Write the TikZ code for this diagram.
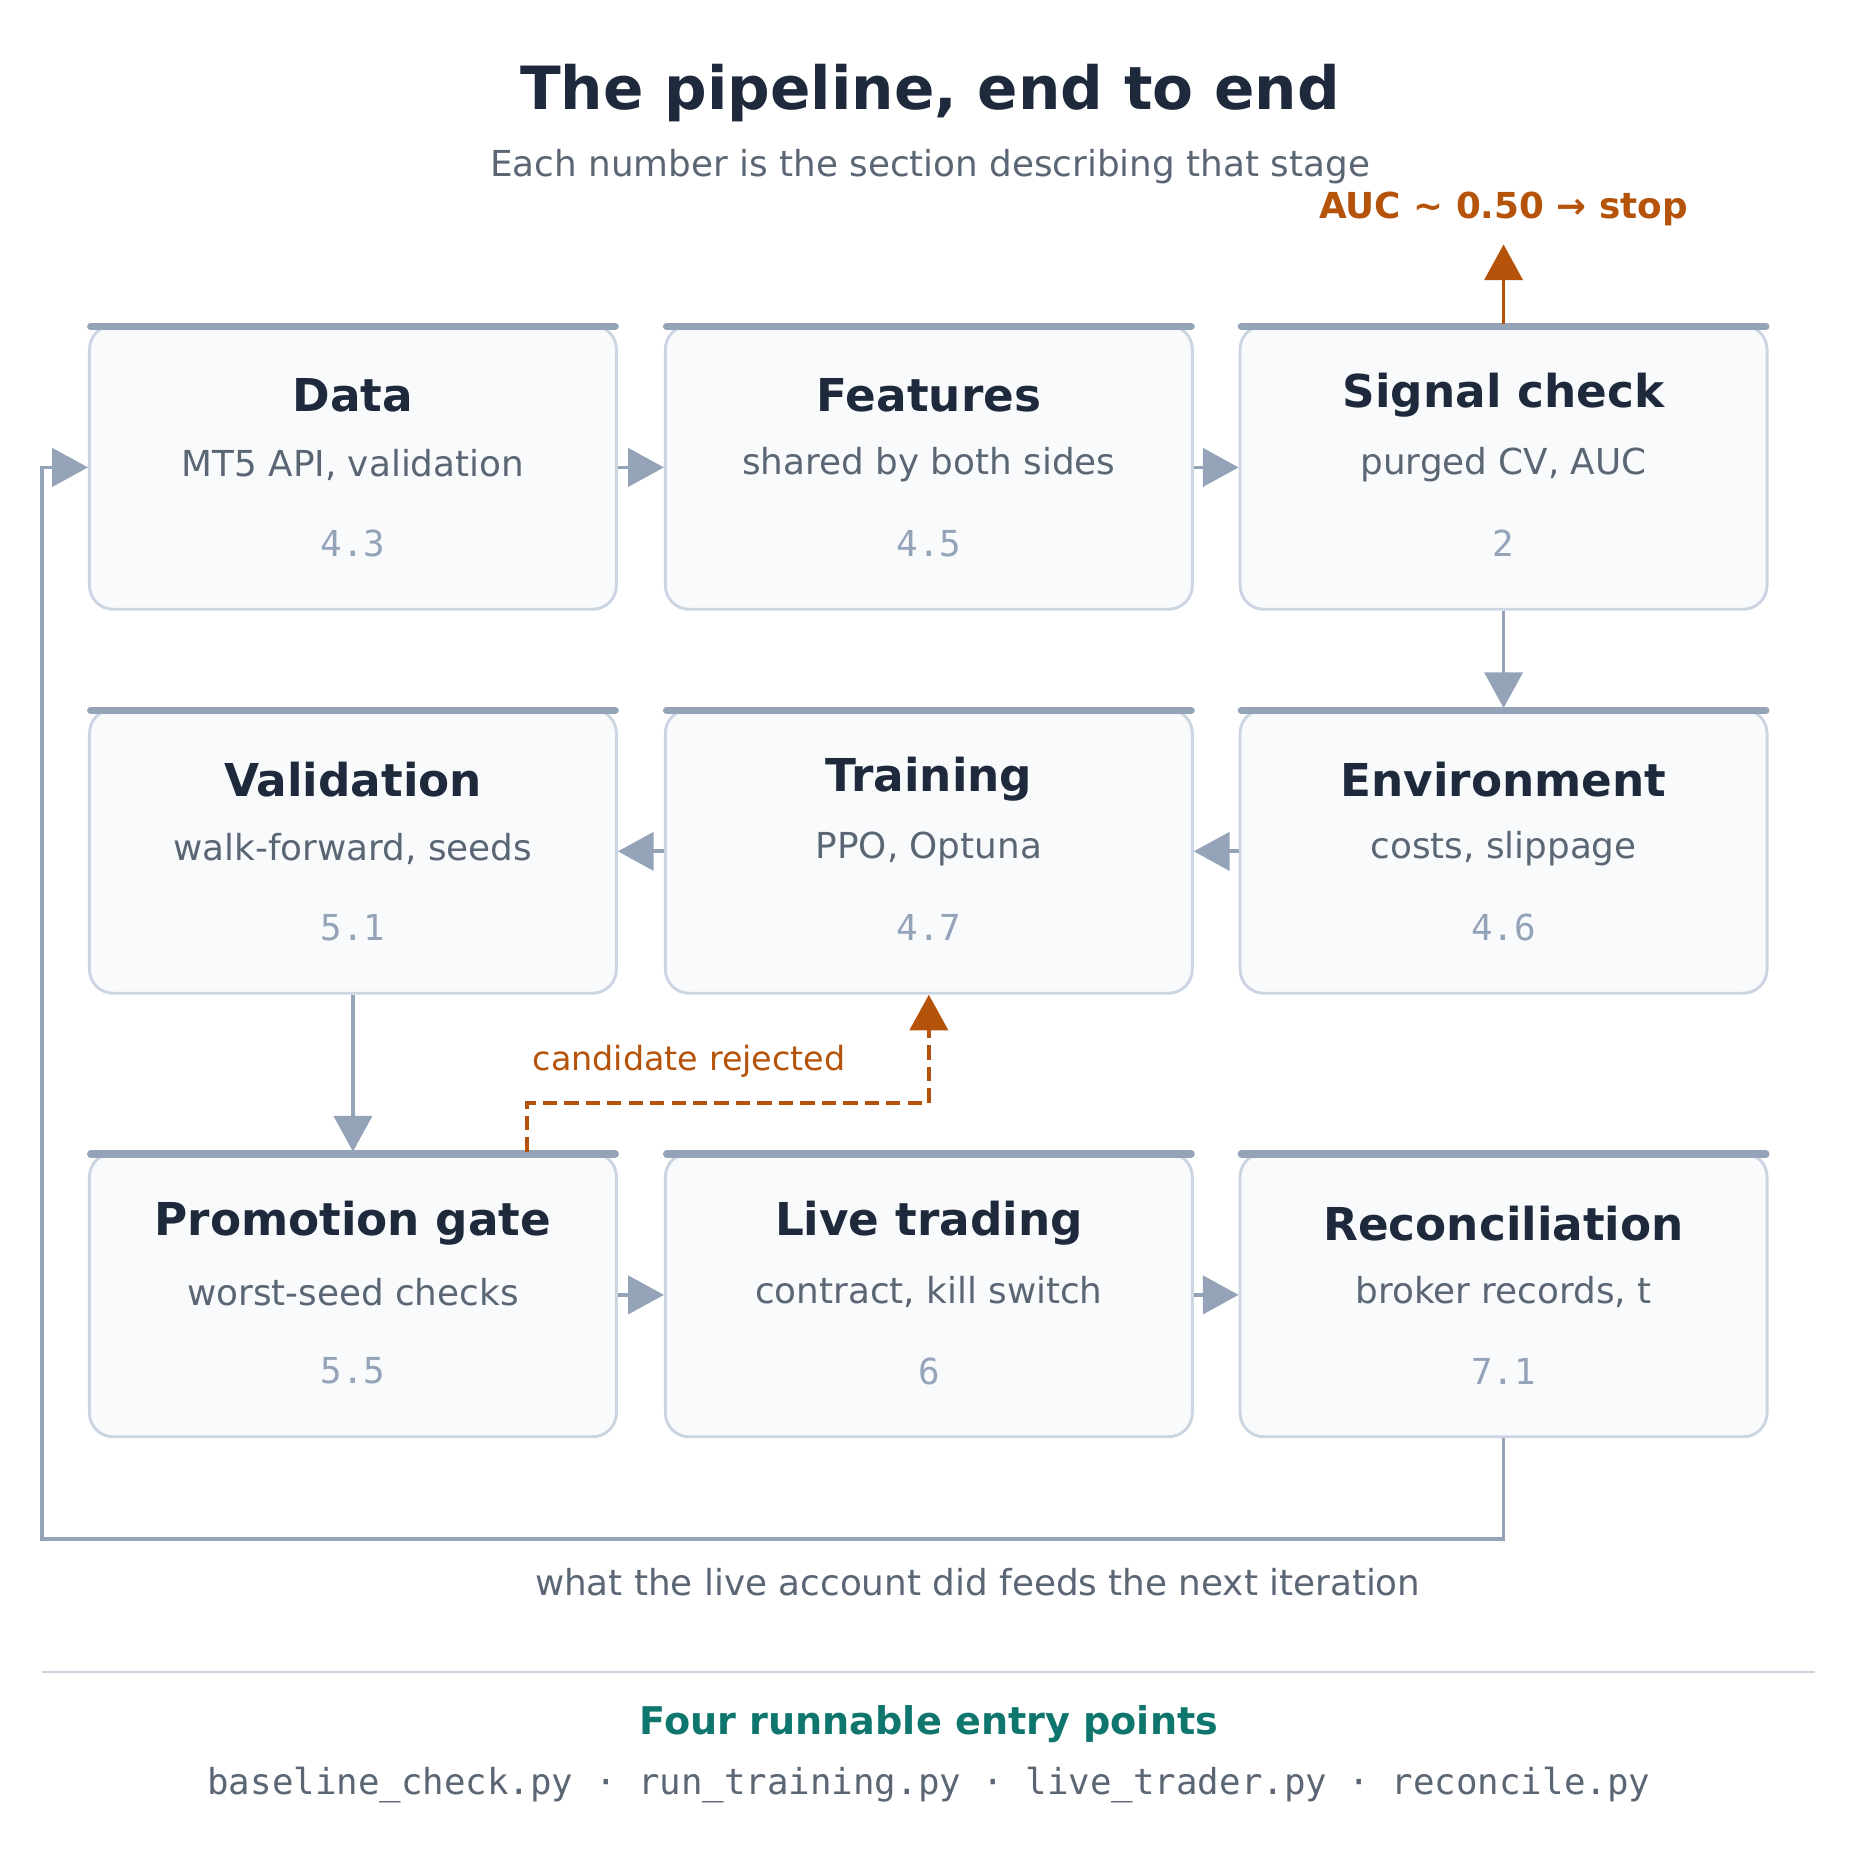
\documentclass[tikz,border=0pt]{standalone}
\usepackage{fontspec}
\setmainfont{DejaVu Sans}
\setmonofont{DejaVu Sans Mono}
\usetikzlibrary{positioning}
\usetikzlibrary{arrows.meta}
\definecolor{ink}{HTML}{1E293B}
\definecolor{muted}{HTML}{5B6675}
\definecolor{slate}{HTML}{94A3B8}
\definecolor{edge}{HTML}{CBD5E1}
\definecolor{paper}{HTML}{F8FAFC}
\definecolor{rust}{HTML}{B45309}
\definecolor{teal}{HTML}{0F766E}
\tikzstyle{stage} = [rectangle, rounded corners=10pt, minimum width=221pt, minimum height=119pt, draw=edge, line width=1.2pt, fill=paper]
\tikzstyle{stagetitle} = [font=\fontsize{19}{22}\selectfont\bfseries, text=ink]
\tikzstyle{stagesub} = [font=\fontsize{15}{18}\selectfont, text=muted]
\tikzstyle{stagenum} = [font=\fontsize{15}{18}\ttfamily, text=slate]
\tikzstyle{arrow} = [line width=1.6pt, draw=slate, -{Triangle[length=15pt,width=16pt]}]
\tikzstyle{hotarrow} = [line width=1.6pt, draw=rust, -{Triangle[length=15pt,width=16pt]}]

\begin{document}
\begin{tikzpicture}[x=0.5pt, y=-0.5pt]
        \useasboundingbox (0,0) rectangle (1560,1570);
        \node (title) [font=\fontsize{25}{30}\selectfont\bfseries, text=ink] at (780,78) {The pipeline, end to end};
        \node (subtitle) [font=\fontsize{15}{18}\selectfont, text=muted] at (780,140) {Each number is the section describing that stage};

        % stages
        \foreach \name/\x/\y/\head/\sub/\num in {
            data/296/392/Data/{MT5 API, validation}/4.3,
            feat/779/392/Features/{shared by both sides}/4.5,
            signal/1261/392/Signal check/{purged CV, AUC}/2,
            valid/296/714/Validation/{walk-forward, seeds}/5.1,
            train/779/714/Training/{PPO, Optuna}/4.7,
            env/1261/714/Environment/{costs, slippage}/4.6,
            promo/296/1086/Promotion gate/{worst-seed checks}/5.5,
            live/779/1086/Live trading/{contract, kill switch}/6,
            recon/1261/1086/Reconciliation/{broker records, t}/7.1}{
            \node (\name) [stage] at (\x,\y) {};
            \draw [slate, line width=3pt, line cap=round] ([xshift=-110pt,yshift=-1pt]\name.north) -- ([xshift=110pt,yshift=-1pt]\name.north);
            \node (\name-t) [stagetitle] at ([yshift=-30pt]\name.north) {\head};
            \node (\name-s) [stagesub] at ([yshift=-59pt]\name.north) {\sub};
            \node (\name-n) [stagenum] at ([yshift=-92pt]\name.north) {\num};
        }

        \coordinate (stop) at (1261,205);
        \node (stoplabel) [font=\fontsize{15}{18}\selectfont\bfseries, text=rust] at (1261,175) {AUC \char"223C{} 0.50 → stop};

        \draw [arrow] (data.east) -- (feat.west);
        \draw [arrow] (feat.east) -- (signal.west);
        \draw [hotarrow] (signal.north) -- (stop);
        \draw [arrow] (signal.south) -- (env.north);
        \draw [arrow] (env.west) -- (train.east);
        \draw [arrow] (train.west) -- (valid.east);
        \draw [arrow] (valid.south) -- (promo.north);
        \draw [arrow] (promo.east) -- (live.west);
        \draw [arrow] (live.east) -- (recon.west);

        \draw [hotarrow, dash pattern=on 6pt off 3pt] ([xshift=73pt]promo.north) |- (779,925) -- (train.south);
        \node (rejected) [font=\fontsize{14}{17}\selectfont, text=rust] at (578,890) {candidate rejected};

        \draw [arrow] (recon.south) |- (35,1291) |- (data.west);
        \node (feedback) [font=\fontsize{15}{18}\selectfont, text=muted] at (820,1327) {what the live account did feeds the next iteration};

        \draw [edge, line width=1pt] (35,1402) -- (1522,1402);
        \node (entry) [font=\fontsize{16}{19}\selectfont\bfseries, text=teal] at (779,1446) {Four runnable entry points};
        \node (scripts) [font=\fontsize{15}{18}\ttfamily, text=muted] at (779,1497) {baseline\_check.py · run\_training.py · live\_trader.py · reconcile.py};
    \end{tikzpicture}
\end{document}
